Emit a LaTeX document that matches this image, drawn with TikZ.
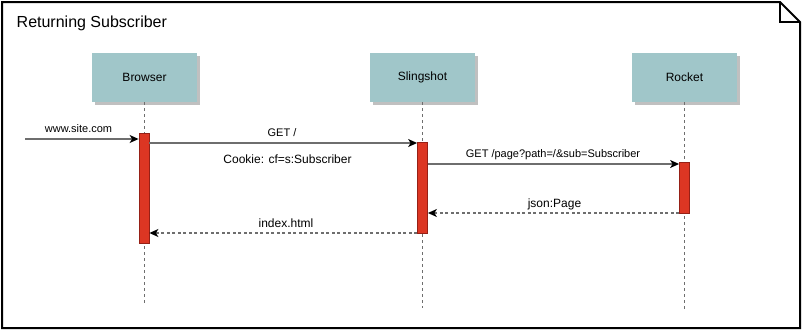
\documentclass[tikz,border=0pt]{standalone}
\usepackage{fontspec}
\setmainfont{Liberation Sans}
\usetikzlibrary{arrows.meta}
\definecolor{headfill}{RGB}{160,198,201}
\definecolor{headshadow}{RGB}{192,192,192}
\definecolor{barfill}{RGB}{220,54,35}
\definecolor{barline}{RGB}{150,32,22}
\definecolor{msgline}{RGB}{110,110,110}
\tikzset{
  x=1pt, y=-1pt,
  frame/.style={draw=black, line width=2pt, line join=miter},
  head/.style={fill=headfill, minimum width=105pt, minimum height=49pt, inner sep=0pt, font=\fontsize{12}{14}\selectfont},
  headshade/.style={fill=headshadow},
  lifeline/.style={draw=msgline, line width=1pt, dash pattern=on 3pt off 3pt},
  actbar/.style={fill=barfill, draw=barline, line width=0.8pt, minimum width=10pt, inner sep=0pt},
  msg/.style={draw=msgline, line width=1.2pt, -{Stealth[length=9pt, width=8pt, inset=2.5pt, color=black]}},
  reply/.style={msg, dash pattern=on 3pt off 2.5pt},
  lbl/.style={font=\fontsize{11}{13}\selectfont, inner sep=0pt},
  biglbl/.style={font=\fontsize{12}{14}\selectfont, inner sep=0pt},
}
\begin{document}
\begin{tikzpicture}
\useasboundingbox (0,0) rectangle (803,332);
% outer frame with folded corner
\draw[frame] (2,2) -- (780,2) -- (800,22) -- (800,328) -- (2,328) -- cycle;
\draw[frame] (780,2) -- (780,22) -- (800,22);
\node[anchor=west, inner sep=0pt, font=\fontsize{16}{19}\selectfont] (title) at (16.5,23) {Returning Subscriber};

% participant shadows
\fill[headshade] (94.5,55.5) rectangle (199.5,104.5);
\fill[headshade] (372.5,55.5) rectangle (477.5,104.5);
\fill[headshade] (634.5,55.5) rectangle (739.5,104.5);
% participants
\node[head] (browser) at (144.5,77.5) {Browser};
\node[head] (sling) at (422.5,77.5) {Slingshot};
\node[head] (rocket) at (684.5,77.5) {Rocket};

% lifelines
\coordinate (bEnd) at (144.5,306);
\coordinate (sEnd) at (422.5,308);
\coordinate (rEnd) at (684.5,310);
\draw[lifeline] (browser.south) -- (bEnd);
\draw[lifeline] (sling.south) -- (sEnd);
\draw[lifeline] (rocket.south) -- (rEnd);

% activation bars
\node[actbar, minimum height=110pt] (actB) at (144,188) {};
\node[actbar, minimum height=91pt] (actS) at (422.5,187.5) {};
\node[actbar, minimum height=51pt] (actR) at (684.5,187.5) {};

% entry point
\coordinate (user) at (25,139);
\draw[msg] (user) -- (actB.west |- user);
\node[lbl] (site) at (78.5,129) {www.site.com};

% Browser -> Slingshot
\draw[msg] (actB.east |- 0,143) -- (actS.west |- 0,143);
\node[lbl] (get) at (282,133) {GET /};
\node[biglbl] (cookie) at (287.5,159) {Cookie: cf=s:Subscriber};

% Slingshot -> Rocket
\draw[msg] (actS.east |- 0,164) -- (actR.west |- 0,164);
\node[lbl] (getpage) at (553,155) {GET /page?path=/\&sub=Subscriber};

% Rocket -> Slingshot
\draw[reply] (actR.west |- 0,213) -- (actS.east |- 0,213);
\node[biglbl] (json) at (554.5,204) {json:Page};

% Slingshot -> Browser
\draw[reply] (actS.west |- 0,233) -- (actB.east |- 0,233);
\node[biglbl] (index) at (286,223) {index.html};
\end{tikzpicture}
\end{document}
